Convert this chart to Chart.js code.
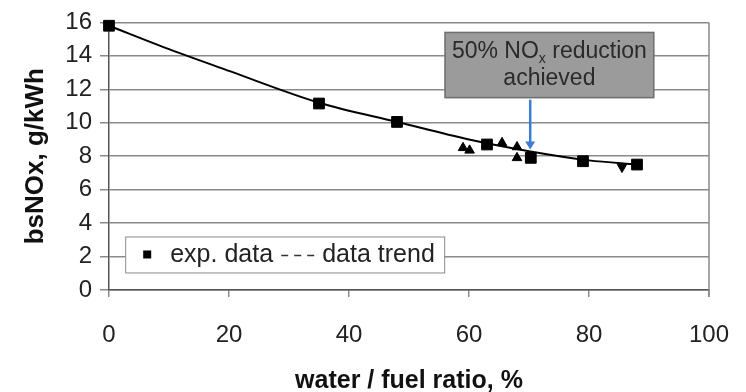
<!DOCTYPE html>
<html>
<head>
<meta charset="utf-8">
<script src="https://cdn.jsdelivr.net/npm/chart.js@4/dist/chart.umd.min.js"></script>
<style>
  html, body { margin: 0; padding: 0; background: #fff; }
  #wrap { width: 746px; height: 392px; }
</style>
</head>
<body>
<div id="wrap"><canvas id="noxChart" width="746" height="392"></canvas></div>
<script>
// measured points (squares)
const expX = [0, 35, 48, 63, 70.3, 79, 88];
const expY = [15.8, 11.15, 10.05, 8.7, 7.9, 7.7, 7.5];

// other test points (triangles)
const triX = [59, 60.1, 65.5, 68, 68];
const triY = [8.5, 8.35, 8.8, 8.55, 7.9];
const downX = [85.5];
const downY = [7.35];

// trend curve
const trendX = [0, 10, 20, 35, 48, 60, 70, 80, 88];
const trendY = [15.8, 14.4, 13.1, 11.2, 10.05, 9.0, 8.3, 7.75, 7.5];

// axis ticks
const xTicks = [0, 20, 40, 60, 80, 100];
const yTicks = [0, 2, 4, 6, 8, 10, 12, 14, 16];

function toPoints(xs, ys) {
    return xs.map((x, i) => ({ x: x, y: ys[i] }));
}

// annotation box and arrow in data units
const note = { x1: 56, x2: 90.8, yTop: 15.4, yBottom: 11.5, arrowX: 70.2, arrowTip: 8.4 };

const FONT = 'Liberation Sans, Arial, sans-serif';

const extras = {
    id: 'extras',
    afterDatasetsDraw(chart) {
        const ctx = chart.ctx;
        const xs = chart.scales.x, ys = chart.scales.y;
        const area = chart.chartArea;
        ctx.save();

        // right border of the plot
        ctx.strokeStyle = '#8a8a8a';
        ctx.lineWidth = 1.5;
        ctx.beginPath();
        ctx.moveTo(area.right, area.top);
        ctx.lineTo(area.right, area.bottom + 7);
        ctx.stroke();

        // legend box
        const lx = xs.getPixelForValue(2.7), ly = ys.getPixelForValue(3.2);
        const lw = 319, lh = 36;
        ctx.fillStyle = '#fff';
        ctx.fillRect(lx, ly, lw, lh);
        ctx.strokeStyle = '#8a8a8a';
        ctx.lineWidth = 1;
        ctx.strokeRect(lx + 0.5, ly + 0.5, lw, lh);
        const cy = ly + lh / 2;
        ctx.fillStyle = '#000';
        ctx.fillRect(lx + 18, cy - 4, 8, 8);
        ctx.font = '25px ' + FONT;
        ctx.fillStyle = '#222';
        ctx.textBaseline = 'middle';
        ctx.textAlign = 'left';
        ctx.fillText('exp. data', lx + 45, cy + 1);
        ctx.strokeStyle = '#333';
        ctx.lineWidth = 1.5;
        ctx.setLineDash([7, 6]);
        ctx.beginPath();
        ctx.moveTo(lx + 156, cy + 1);
        ctx.lineTo(lx + 190, cy + 1);
        ctx.stroke();
        ctx.setLineDash([]);
        ctx.fillText('data trend', lx + 197, cy + 1);

        // annotation box
        const bx1 = xs.getPixelForValue(note.x1), bx2 = xs.getPixelForValue(note.x2);
        const by1 = ys.getPixelForValue(note.yTop), by2 = ys.getPixelForValue(note.yBottom);
        ctx.fillStyle = '#9b9b9b';
        ctx.fillRect(bx1, by1, bx2 - bx1, by2 - by1);
        ctx.strokeStyle = '#6e6e6e';
        ctx.lineWidth = 1.5;
        ctx.strokeRect(bx1, by1, bx2 - bx1, by2 - by1);

        const mid = (bx1 + bx2) / 2;
        ctx.fillStyle = '#2a2a2a';
        const partA = '50% NO', partB = ' reduction';
        ctx.font = '23px ' + FONT;
        const wA = ctx.measureText(partA).width;
        const wB = ctx.measureText(partB).width;
        ctx.font = '14px ' + FONT;
        const wX = ctx.measureText('x').width;
        const tx = mid - (wA + wX + wB) / 2;
        const line1 = by1 + 19;
        ctx.font = '23px ' + FONT;
        ctx.fillText(partA, tx, line1);
        ctx.font = '14px ' + FONT;
        ctx.fillText('x', tx + wA, line1 + 8);
        ctx.font = '23px ' + FONT;
        ctx.fillText(partB, tx + wA + wX, line1);
        ctx.textAlign = 'center';
        ctx.fillText('achieved', mid, by1 + 46);

        // arrow
        const ax = xs.getPixelForValue(note.arrowX);
        const tip = ys.getPixelForValue(note.arrowTip);
        ctx.strokeStyle = '#3b7dd0';
        ctx.fillStyle = '#3b7dd0';
        ctx.lineWidth = 2.5;
        ctx.beginPath();
        ctx.moveTo(ax, by2 + 2);
        ctx.lineTo(ax, tip - 6);
        ctx.stroke();
        ctx.beginPath();
        ctx.moveTo(ax - 5, tip - 8);
        ctx.lineTo(ax + 5, tip - 8);
        ctx.lineTo(ax, tip);
        ctx.closePath();
        ctx.fill();

        ctx.restore();
    }
};

const ctx = document.getElementById('noxChart').getContext('2d');
const noxChart = new Chart(ctx, {
    type: 'scatter',
    data: {
        datasets: [
            {
                label: 'data trend',
                type: 'line',
                data: toPoints(trendX, trendY),
                borderColor: '#000',
                borderWidth: 2,
                pointRadius: 0,
                cubicInterpolationMode: 'monotone',
                fill: false,
                clip: false,
                order: 3
            },
            {
                label: 'tri',
                data: toPoints(triX, triY),
                pointStyle: 'triangle',
                pointRadius: 5.5,
                backgroundColor: '#000',
                borderColor: '#000',
                borderWidth: 1,
                order: 2
            },
            {
                label: 'tri down',
                data: toPoints(downX, downY),
                pointStyle: 'triangle',
                pointRotation: 180,
                pointRadius: 5.5,
                backgroundColor: '#000',
                borderColor: '#000',
                borderWidth: 1,
                order: 2
            },
            {
                label: 'exp. data',
                data: toPoints(expX, expY),
                pointStyle: 'rect',
                pointRadius: 7.6,
                backgroundColor: '#000',
                borderColor: '#000',
                borderWidth: 1,
                clip: false,
                order: 1
            }
        ]
    },
    options: {
        responsive: false,
        animation: false,
        layout: { padding: { top: 18, right: 37, bottom: 0, left: 0 } },
        plugins: {
            legend: { display: false },
            tooltip: { enabled: false }
        },
        scales: {
            x: {
                type: 'linear',
                min: 0,
                max: 100,
                afterFit(scale) {
                    scale.height = 102;
                    scale.paddingLeft = 0;
                    scale.paddingRight = 20;
                },
                afterBuildTicks(scale) { scale.ticks = xTicks.map(v => ({ value: v })); },
                ticks: {
                    font: { family: FONT, size: 24 },
                    color: '#222',
                    padding: 24
                },
                grid: {
                    drawOnChartArea: false,
                    drawTicks: true,
                    tickLength: 7,
                    color: '#8a8a8a',
                    lineWidth: 1.5
                },
                border: { color: '#555', width: 1.5 },
                title: {
                    display: true,
                    text: 'water / fuel ratio, %',
                    font: { family: FONT, size: 25, weight: 'bold', lineHeight: 1 },
                    color: '#111',
                    padding: { top: 0, bottom: -2 }
                }
            },
            y: {
                type: 'linear',
                min: 0,
                max: 16,
                afterFit(scale) { scale.width = 109; },
                afterBuildTicks(scale) { scale.ticks = yTicks.map(v => ({ value: v })); },
                ticks: {
                    font: { family: FONT, size: 24 },
                    color: '#222',
                    padding: 8
                },
                grid: {
                    drawTicks: true,
                    tickLength: 9,
                    color: '#8a8a8a',
                    lineWidth: 1.5
                },
                border: { color: '#555', width: 1.5 },
                title: {
                    display: true,
                    text: 'bsNOx, g/kWh',
                    font: { family: FONT, size: 26, weight: 'bold', lineHeight: 1 },
                    color: '#111',
                    padding: { top: 23, bottom: 0 }
                }
            }
        }
    },
    plugins: [extras]
});
</script>
</body>
</html>
